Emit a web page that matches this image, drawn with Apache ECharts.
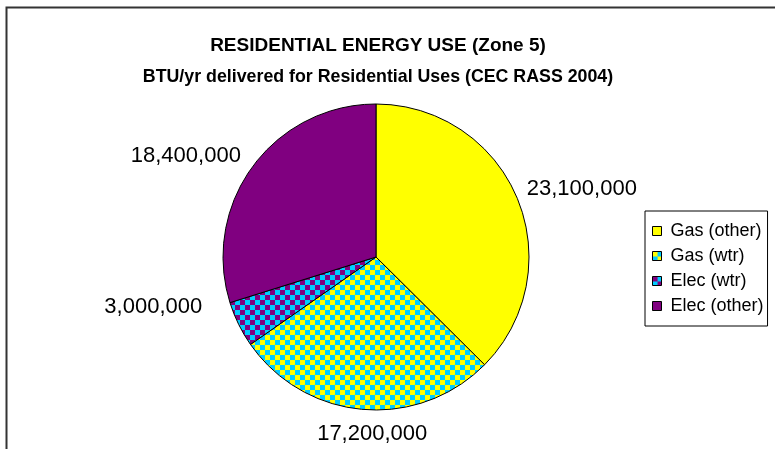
<!DOCTYPE html>
<html>
<head>
<meta charset="utf-8">
<script src="https://cdn.jsdelivr.net/npm/echarts@6/dist/echarts.min.js"></script>
<style>
    html, body { margin: 0; padding: 0; background: #fff; }
    #chart { width: 775px; height: 449px; }
</style>
</head>
<body>
<div id="chart"></div>
<script>
var categories = ['Gas (other)', 'Gas (wtr)', 'Elec (wtr)', 'Elec (other)'];
var values = [23100000, 17200000, 3000000, 18400000];

// excel drops the labels a bit off the slice middle, nudge them
var labelNudge = [[-1, -7], [70, 19], [-26, -20], [-2, -7]];

// checkerboard fill like the excel pattern
function checker(c1, c2) {
    var cv = document.createElement('canvas');
    cv.width = 10;
    cv.height = 10;
    var ctx = cv.getContext('2d');
    ctx.fillStyle = c1;
    ctx.fillRect(0, 0, 10, 10);
    ctx.fillStyle = c2;
    ctx.fillRect(0, 0, 5, 5);
    ctx.fillRect(5, 5, 5, 5);
    return { image: cv, repeat: 'repeat' };
}

var fills = [
    '#FFFF00',
    checker('#00CCFF', '#FFFF00'),
    checker('#00CCFF', '#800080'),
    '#800080'
];

var data = [];
for (var i = 0; i < categories.length; i++) {
    data.push({ name: categories[i], value: values[i], itemStyle: { color: fills[i] } });
}

var chart = echarts.init(document.getElementById('chart'));
chart.setOption({
    animation: false,
    title: {
        text: 'RESIDENTIAL ENERGY USE (Zone 5)',
        subtext: 'BTU/yr delivered for Residential Uses (CEC RASS 2004)',
        left: 373,
        textAlign: 'center',
        top: 31,
        itemGap: 13,
        textStyle: { fontFamily: 'Liberation Sans', fontSize: 19, fontWeight: 'bold', color: '#000' },
        subtextStyle: { fontFamily: 'Liberation Sans', fontSize: 17.8, fontWeight: 'bold', color: '#000' }
    },
    graphic: [{
        type: 'rect',
        shape: { x: 6.5, y: 7.5, width: 900, height: 600 },
        style: { fill: 'none', stroke: '#333', lineWidth: 2 },
        silent: true
    }],
    legend: {
        orient: 'vertical',
        left: 645,
        top: 211,
        padding: [11, 4, 11, 7],
        itemGap: 7,
        itemWidth: 9,
        itemHeight: 9,
        icon: 'rect',
        borderColor: '#000',
        borderWidth: 1,
        itemStyle: { borderColor: '#000', borderWidth: 1 },
        textStyle: { fontFamily: 'Liberation Sans', fontSize: 18, lineHeight: 18, color: '#000', padding: [0, 0, 0, 4] },
        data: categories
    },
    series: [{
        type: 'pie',
        center: [376, 257],
        radius: 153,
        startAngle: 90,
        clockwise: true,
        avoidLabelOverlap: false,
        itemStyle: { borderColor: '#000', borderWidth: 1 },
        label: {
            show: true,
            position: 'outside',
            fontFamily: 'Liberation Sans',
            fontSize: 22,
            color: '#000',
            formatter: function (p) {
                return p.value.toLocaleString('en-US');
            }
        },
        labelLine: { show: false, length: 6, length2: 0 },
        labelLayout: function (p) {
            return { dx: labelNudge[p.dataIndex][0], dy: labelNudge[p.dataIndex][1] };
        },
        emphasis: { disabled: true },
        data: data
    }]
});
</script>
</body>
</html>
